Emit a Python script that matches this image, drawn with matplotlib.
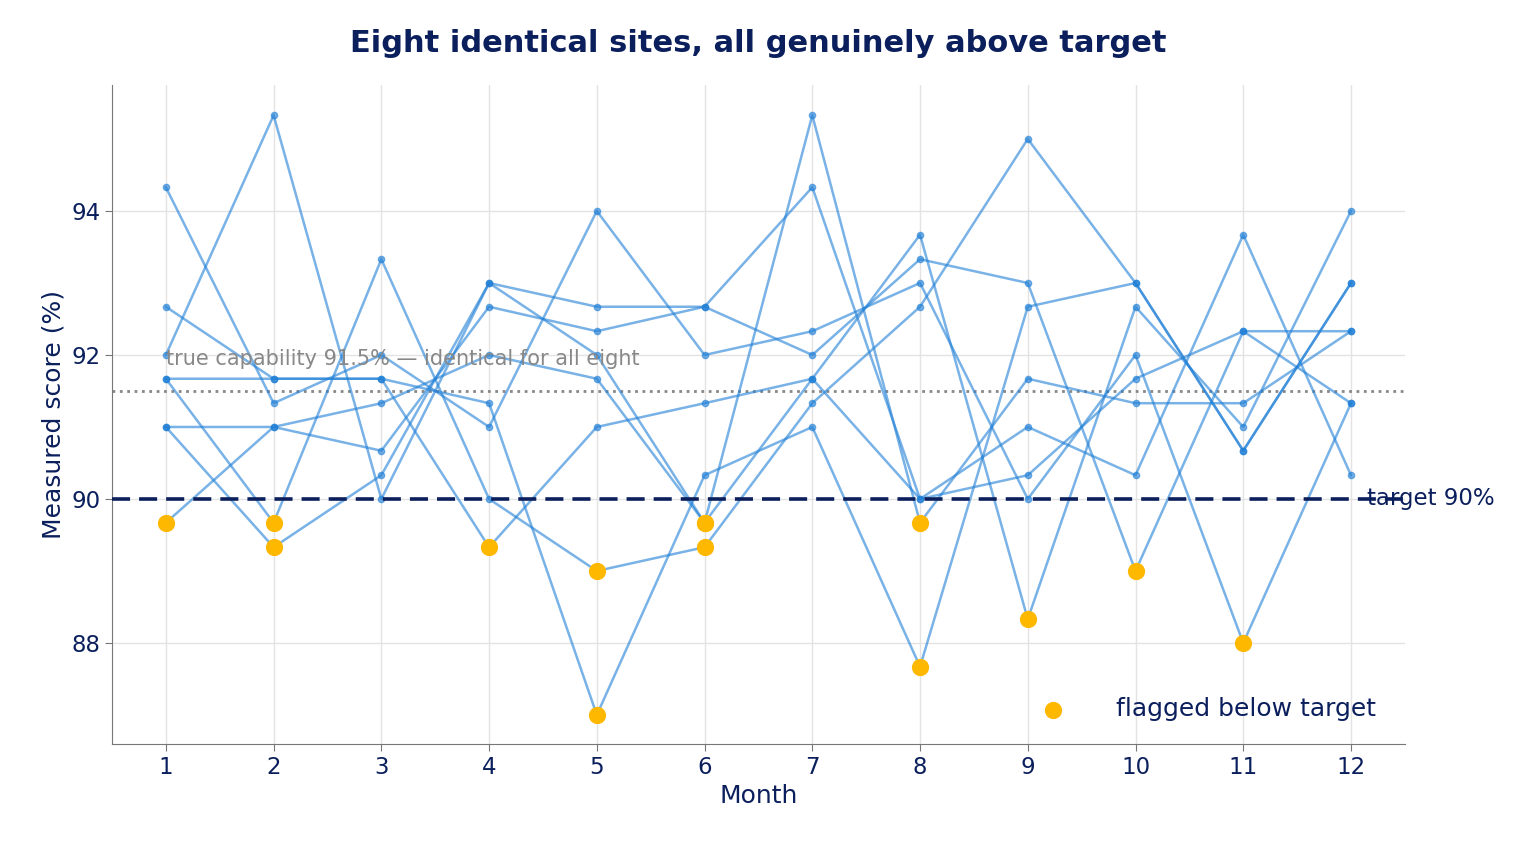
import matplotlib.pyplot as plt

NAVY = "#0b1f5c"
BLUE = "#1f7fd6"
GOLD = "#ffb800"

months = list(range(1, 13))
site_a = [94.33, 91.33, 92.00, 91.00, 94.00, 92.00, 92.33, 93.00, 90.00, 92.00, 88.00, 91.33]
site_b = [92.67, 91.67, 91.67, 91.33, 87.00, 90.33, 91.00, 87.67, 92.67, 93.00, 90.67, 93.00]
site_c = [92.00, 95.33, 90.00, 93.00, 92.67, 92.67, 92.00, 93.33, 93.00, 89.00, 92.33, 92.33]
site_d = [91.67, 89.67, 93.33, 90.00, 89.00, 89.33, 91.33, 92.67, 95.00, 93.00, 90.67, 93.00]
site_e = [91.00, 91.00, 91.33, 92.00, 91.67, 89.67, 95.33, 89.67, 91.67, 91.33, 91.33, 92.33]
site_f = [91.00, 89.33, 90.33, 93.00, 92.00, 89.67, 91.67, 93.67, 88.33, 92.67, 91.00, 94.00]
site_g = [89.67, 91.00, 90.67, 92.67, 92.33, 92.67, 94.33, 90.00, 91.00, 90.33, 93.67, 90.33]
site_h = [91.67, 91.67, 91.67, 89.33, 91.00, 91.33, 91.67, 90.00, 90.33, 91.67, 92.33, 91.33]
sites = [site_a, site_b, site_c, site_d, site_e, site_f, site_g, site_h]

target = 90.0
capability = 91.5

fig = plt.figure(figsize=(15.3, 8.5), dpi=100)
ax = fig.add_axes([0.0732, 0.125, 0.845, 0.775])

for s in sites:
    ax.plot(months, s, color=BLUE, alpha=0.6, linewidth=1.8, marker="o", markersize=4.5, zorder=2)

fx = [m for s in sites for m, v in zip(months, s) if v < target]
fy = [v for s in sites for v in s if v < target]
ax.scatter(fx, fy, s=130, color=GOLD, zorder=4, label="flagged below target")

ax.axhline(target, color=NAVY, linestyle="--", linewidth=2.6, dashes=(5, 2.5), zorder=3)
ax.axhline(capability, color="#888888", linestyle=":", linewidth=2, zorder=1)
ax.text(1, capability + 0.3, "true capability 91.5% \u2014 identical for all eight",
        color="#888888", fontsize=15, va="bottom")
ax.text(12.15, target, "target 90%", color=NAVY, fontsize=16.5, va="center")

ax.set_xlim(0.5, 12.5)
ax.set_ylim(86.6, 95.75)
ax.set_xticks(months)
ax.set_yticks([88, 90, 92, 94])
ax.grid(color="#e3e3e3", linewidth=1)
ax.set_axisbelow(True)
ax.spines[["top", "right"]].set_visible(False)
ax.spines[["left", "bottom"]].set_color("#777777")
ax.tick_params(labelsize=16.5, colors=NAVY, length=5)
ax.tick_params(color="#777777")
ax.set_xlabel("Month", fontsize=18, color=NAVY)
ax.set_ylabel("Measured score (%)", fontsize=18, color=NAVY)
ax.set_title("Eight identical sites, all genuinely above target", fontsize=22,
             fontweight="bold", color=NAVY, pad=24)
ax.legend(loc="lower right", bbox_to_anchor=(0.995, 0.0), frameon=False, fontsize=18,
          labelcolor=NAVY, handletextpad=1.5)

plt.savefig("out.png", dpi=100)
